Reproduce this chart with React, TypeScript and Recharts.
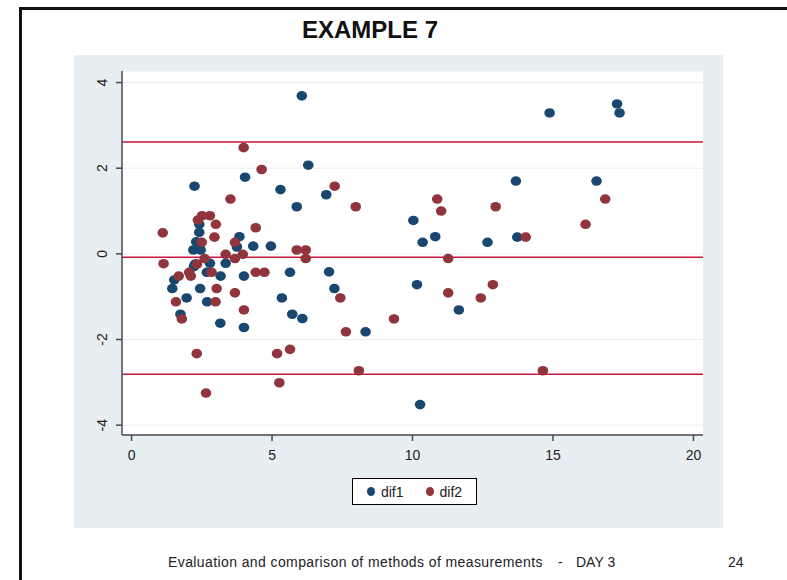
import { ScatterChart, Scatter, XAxis, YAxis, CartesianGrid, ReferenceLine, Legend } from 'recharts'

const FONT = '"Liberation Sans", Arial, sans-serif'

const xTicks = [0, 5, 10, 15, 20]
const yTicks = [-4, -2, 0, 2, 4]
// mean and limits of agreement
const limits = [2.61, -0.08, -2.81]

const dif1X = [6.06, 14.88, 17.28, 17.37, 6.29, 4.04, 2.24, 5.3, 5.88, 6.93, 13.68, 16.55, 10.03, 10.36, 10.81, 12.67, 13.73,
  2.41, 2.41, 3.84, 2.3, 4.33, 4.96, 3.75, 2.2, 2.46, 2.26, 2.79, 3.35, 2.22, 2.68, 3.17, 4.0, 5.64, 7.03, 1.52, 1.45, 2.44,
  7.22, 10.16, 1.96, 2.69, 5.35, 11.65, 1.74, 5.72, 6.08, 3.16, 4.0, 8.33, 10.27]
const dif1Y = [3.69, 3.29, 3.5, 3.29, 2.07, 1.79, 1.58, 1.5, 1.1, 1.38, 1.7, 1.7, 0.78, 0.27, 0.4, 0.27, 0.39,
  0.69, 0.5, 0.4, 0.28, 0.18, 0.18, 0.16, 0.09, 0.09, -0.24, -0.22, -0.22, -0.3, -0.43, -0.52, -0.52, -0.43, -0.42, -0.61, -0.81, -0.81,
  -0.81, -0.72, -1.03, -1.12, -1.03, -1.31, -1.41, -1.41, -1.51, -1.62, -1.72, -1.82, -3.52]

const dif2X = [3.99, 4.63, 3.52, 7.23, 7.98, 10.88, 11.02, 12.96, 16.86, 16.16, 14.03, 1.11, 2.36, 2.51, 2.79, 3.0, 2.95, 4.42,
  2.5, 3.68, 5.88, 6.2, 6.2, 3.35, 3.96, 3.68, 2.6, 11.27, 1.14, 2.33, 2.85, 2.05, 2.11, 1.68, 4.42, 4.73, 3.03, 3.68, 1.58,
  2.99, 7.43, 11.27, 12.43, 12.86, 4.0, 1.79, 7.63, 9.34, 2.32, 5.18, 5.64, 5.26, 2.65, 8.09, 14.64]
const dif2Y = [2.48, 1.97, 1.28, 1.58, 1.1, 1.28, 1.0, 1.1, 1.28, 0.69, 0.39, 0.49, 0.79, 0.89, 0.89, 0.69, 0.39, 0.61,
  0.27, 0.27, 0.09, 0.09, -0.11, -0.01, -0.01, -0.11, -0.11, -0.11, -0.23, -0.24, -0.43, -0.43, -0.52, -0.52, -0.43, -0.43, -0.81, -0.91, -1.12,
  -1.12, -1.03, -0.91, -1.03, -0.72, -1.31, -1.52, -1.82, -1.52, -2.33, -2.33, -2.23, -3.01, -3.25, -2.73, -2.73]

const dif1 = dif1X.map((x, i) => ({ x, y: dif1Y[i] }))
const dif2 = dif2X.map((x, i) => ({ x, y: dif2Y[i] }))

const BLUE = '#1a476f'
const RED = '#90353b'

function Dot(color: string) {
  return (props: any) => <ellipse cx={props.cx} cy={props.cy} rx={5.3} ry={4.8} fill={color} />
}

function YTick({ x, y, payload }: any) {
  const bx = x - 7
  return (
    <text x={bx} y={y} transform={`rotate(-90 ${bx} ${y})`} textAnchor="middle" fontSize={14} fill="#222" fontFamily={FONT}>
      {payload.value}
    </text>
  )
}

function XTick({ x, y, payload }: any) {
  return (
    <text x={x} y={y + 17} textAnchor="middle" fontSize={14} fill="#222" fontFamily={FONT}>
      {payload.value}
    </text>
  )
}

function LegendBox() {
  const item = (c: string, t: string) => (
    <span style={{ display: 'flex', alignItems: 'center', gap: 6 }}>
      <span style={{ width: 8, height: 9, borderRadius: '50%', background: c, display: 'inline-block' }} />
      {t}
    </span>
  )
  return (
    <div style={{
      border: '1px solid #000', background: '#fff', width: 123, height: 25, display: 'flex',
      alignItems: 'center', justifyContent: 'center', gap: 22, fontSize: 14, fontFamily: FONT, color: '#222',
    }}>
      {item(BLUE, 'dif1')}
      {item(RED, 'dif2')}
    </div>
  )
}

export default function App() {
  const foot = { position: 'absolute' as const, top: 554, fontSize: 14, color: '#222', whiteSpace: 'pre' as const }
  return (
    <div style={{ position: 'absolute', left: 0, top: 0, width: 787, height: 580, background: '#fff', overflow: 'hidden', fontFamily: FONT }}>
      <div style={{ position: 'absolute', left: 19, top: 7, right: 0, height: 3, background: '#111' }} />
      <div style={{ position: 'absolute', left: 19, top: 7, width: 3, bottom: 0, background: '#111' }} />
      <div style={{ position: 'absolute', left: 270, width: 200, top: 16, textAlign: 'center', fontSize: 24, fontWeight: 'bold', color: '#111' }}>
        EXAMPLE 7
      </div>
      <div style={{ position: 'absolute', left: 74, top: 55, width: 649, height: 473, background: '#e8eff2' }}>
        <ScatterChart width={649} height={473} margin={{ top: 16, right: 20, left: 0, bottom: 26 }}>
          <CartesianGrid vertical={false} stroke="#e6eef0" fill="#fff" />
          <XAxis
            type="number" dataKey="x" domain={[-0.34, 20.34]} ticks={xTicks} allowDataOverflow
            height={40} tick={<XTick />} tickSize={6} stroke="#4a4a4a" strokeWidth={1.5}
          />
          <YAxis
            type="number" dataKey="y" domain={[-4.23, 4.27]} ticks={yTicks} allowDataOverflow
            width={48} tick={<YTick />} tickSize={6} stroke="#4a4a4a" strokeWidth={1.5}
          />
          {limits.map((v) => (
            <ReferenceLine key={v} y={v} stroke="#c8163f" strokeWidth={1.5} />
          ))}
          <Scatter name="dif1" data={dif1} fill={BLUE} shape={Dot(BLUE)} isAnimationActive={false} />
          <Scatter name="dif2" data={dif2} fill={RED} shape={Dot(RED)} isAnimationActive={false} />
          <Legend content={<LegendBox />} wrapperStyle={{ position: 'absolute', left: 278, top: 423, width: 125 }} />
        </ScatterChart>
      </div>
      <div style={{ ...foot, left: 168, letterSpacing: 0.4 }}>Evaluation and comparison of methods of measurements</div>
      <div style={{ ...foot, left: 558 }}>-</div>
      <div style={{ ...foot, left: 576 }}>DAY 3</div>
      <div style={{ ...foot, left: 728 }}>24</div>
    </div>
  )
}
